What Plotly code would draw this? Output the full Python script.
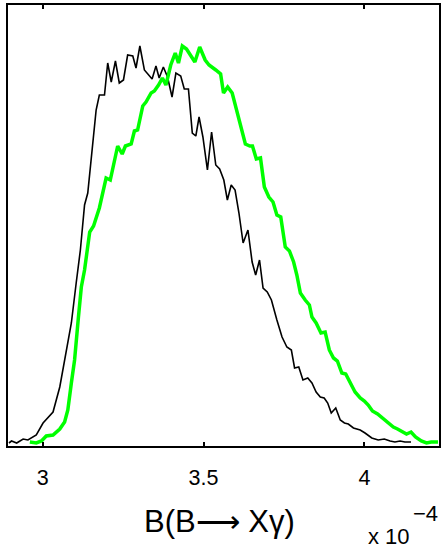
import plotly.graph_objects as go

# Black distribution (x in units of 1e-4, y = counts)
black_x = [2.895, 2.903, 2.919, 2.939, 2.954, 2.980, 3.001, 3.022, 3.032, 3.053,
           3.073, 3.089, 3.104, 3.117, 3.130, 3.140, 3.166, 3.176, 3.192, 3.202,
           3.213, 3.226, 3.238, 3.251, 3.264, 3.280, 3.290, 3.302, 3.316, 3.340,
           3.352, 3.362, 3.375, 3.388, 3.402, 3.414, 3.429, 3.440, 3.453, 3.465,
           3.476, 3.486, 3.498, 3.512, 3.525, 3.538, 3.550, 3.563, 3.574, 3.586,
           3.598, 3.610, 3.623, 3.638, 3.651, 3.662, 3.674, 3.685, 3.698, 3.711,
           3.728, 3.744, 3.759, 3.773, 3.783, 3.796, 3.809, 3.824, 3.837, 3.850,
           3.863, 3.875, 3.886, 3.897, 3.911, 3.925, 3.938, 3.950, 3.966, 3.987,
           4.002, 4.023, 4.043, 4.062, 4.080, 4.095, 4.111, 4.126, 4.145]
black_y = [3, 5, 3, 7, 6, 11, 23, 31, 34, 59,
           93, 123, 163, 196, 241, 253, 336, 351, 351, 383,
           364, 385, 363, 366, 391, 390, 378, 400, 376, 367,
           380, 368, 379, 369, 349, 373, 370, 357, 357, 313,
           310, 329, 309, 276, 314, 281, 277, 266, 246, 261,
           256, 233, 203, 216, 184, 171, 186, 158, 154, 146,
           126, 109, 99, 96, 78, 79, 66, 68, 63, 54,
           49, 48, 43, 33, 38, 26, 23, 22, 18, 16,
           13, 8, 6, 7, 5, 4, 5, 4, 4]

# Green distribution
green_x = [2.960, 2.980, 2.996, 3.011, 3.032, 3.053, 3.068, 3.078, 3.089, 3.099,
           3.111, 3.120, 3.130, 3.139, 3.146, 3.158, 3.176, 3.197, 3.210, 3.233,
           3.247, 3.257, 3.275, 3.285, 3.295, 3.311, 3.321, 3.337, 3.347, 3.360,
           3.372, 3.383, 3.398, 3.412, 3.422, 3.434, 3.447, 3.473, 3.488, 3.505,
           3.517, 3.538, 3.553, 3.562, 3.575, 3.589, 3.602, 3.618, 3.630, 3.644,
           3.652, 3.664, 3.677, 3.689, 3.703, 3.716, 3.728, 3.740, 3.754, 3.767,
           3.780, 3.790, 3.801, 3.816, 3.829, 3.837, 3.850, 3.865, 3.878, 3.891,
           3.904, 3.916, 3.930, 3.942, 3.956, 3.971, 3.987, 4.000, 4.012, 4.025,
           4.041, 4.056, 4.074, 4.090, 4.103, 4.118, 4.131, 4.145, 4.159, 4.177,
           4.193, 4.208, 4.229]
green_y = [4, 3, 5, 10, 11, 17, 24, 36, 63, 86,
           129, 159, 176, 196, 214, 220, 238, 268, 266, 300,
           292, 300, 302, 315, 316, 340, 344, 353, 355, 361,
           368, 361, 381, 393, 383, 400, 397, 384, 399, 386,
           381, 376, 372, 353, 359, 353, 336, 316, 302, 300,
           300, 287, 288, 259, 249, 244, 231, 229, 199, 195,
           184, 171, 153, 146, 141, 129, 123, 113, 114, 96,
           88, 85, 73, 72, 63, 54, 48, 45, 41, 35,
           32, 28, 24, 19, 17, 14, 12, 14, 9, 5,
           3, 4, 4]

tick_vals = [3, 3.5, 4]
tick_text = ["3", "3.5", "4"]

fig = go.Figure()
fig.add_trace(go.Scatter(x=black_x, y=black_y, mode="lines",
                         line=dict(color="black", width=1.6), showlegend=False))
fig.add_trace(go.Scatter(x=green_x, y=green_y, mode="lines",
                         line=dict(color="#00ff00", width=3.5), showlegend=False))

font_family = "Liberation Sans, Arial, sans-serif"

fig.update_layout(
    width=442, height=548,
    margin=dict(l=8, r=1, t=5, b=102),
    paper_bgcolor="white", plot_bgcolor="white",
    font=dict(family=font_family, color="black"),
    xaxis=dict(range=[2.892, 4.232], tickvals=tick_vals, ticktext=tick_text,
               ticks="inside", ticklen=4, tickwidth=1.5, tickcolor="black",
               showline=True, linecolor="black", linewidth=2, mirror="ticks",
               showgrid=False, zeroline=False,
               tickfont=dict(size=21.5, family=font_family, color="black"),
               ticklabelstandoff=11),
    yaxis=dict(range=[0, 441], showticklabels=False, ticks="",
               showline=True, linecolor="black", linewidth=2, mirror=True,
               showgrid=False, zeroline=False),
    annotations=[
        dict(text="B(B\u27f6 X\u03b3)", xref="paper", yref="paper",
             x=0.4896, y=-0.1723, xanchor="center", yanchor="middle",
             showarrow=False, font=dict(size=31, family=font_family, color="black")),
        dict(text="x 10", xref="paper", yref="paper",
             x=0.884, y=-0.2063, xanchor="center", yanchor="middle",
             showarrow=False, font=dict(size=22, family=font_family, color="black")),
        dict(text="\u22124", xref="paper", yref="paper",
             x=0.9677, y=-0.152, xanchor="center", yanchor="middle",
             showarrow=False, font=dict(size=22, family=font_family, color="black")),
    ],
)

fig.write_html("out.html", config={"displayModeBar": False},
               post_script="document.body.style.margin='0';document.body.style.overflow='hidden';")
